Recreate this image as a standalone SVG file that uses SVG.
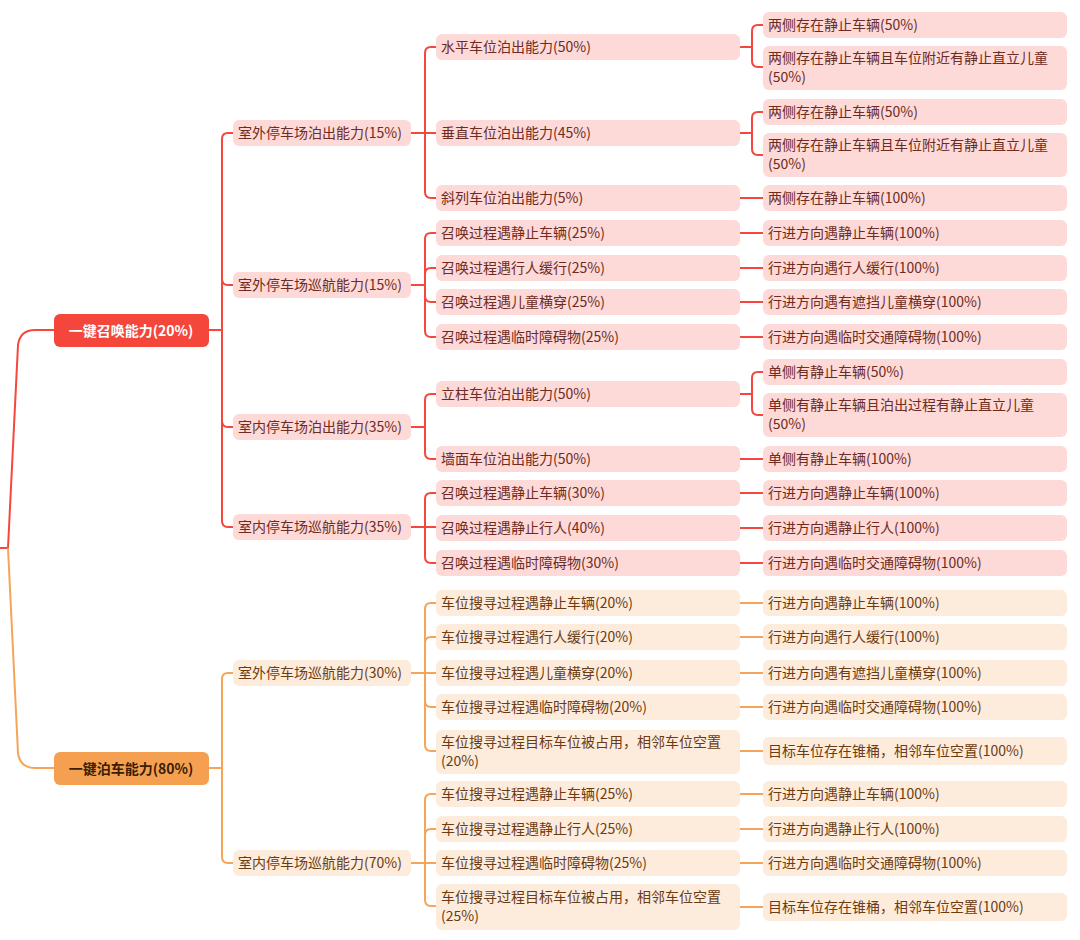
<svg xmlns="http://www.w3.org/2000/svg" width="1080" height="940" viewBox="0 0 1080 940">
<style>
text{font-family:"Noto Sans CJK SC","Noto Sans",sans-serif;font-size:14px}
.r rect{fill:#fdd9d8}.r text{fill:#6e2b22}
.o rect{fill:#fdebdb}.o text{fill:#6b3b12}
.cr{fill:none;stroke:#f5473d;stroke-width:2}
.co{fill:none;stroke:#f5a55a;stroke-width:2}
</style>
<rect width="1080" height="940" fill="#fff"/>
<g id="connectors">
<path class="cr" d="M0,548 H8 L18,345 Q20,330 35,330 H54"/>
<path class="co" d="M8,548 L18,753 Q20,768 35,768 H54"/>
<path class="cr" d="M209,330 H222 V139 Q222,133 228,133 H233 M222,330 V279 Q222,285 228,285 H233 M222,330 V421 Q222,427 228,427 H233 M222,330 V521 Q222,527 228,527 H233"/>
<path class="cr" d="M411,133 H436 M425,133 V53 Q425,47 431,47 H436 M425,133 V192 Q425,198 431,198 H436"/>
<path class="cr" d="M411,285 H425 V239 Q425,233 431,233 H436 M425,285 V274 Q425,268 431,268 H436 M425,285 V296 Q425,302 431,302 H436 M425,285 V331 Q425,337 431,337 H436"/>
<path class="cr" d="M411,427 H425 V400 Q425,394 431,394 H436 M425,427 V453 Q425,459 431,459 H436"/>
<path class="cr" d="M411,527 H436 M425,527 V499 Q425,493 431,493 H436 M425,527 V557 Q425,563 431,563 H436"/>
<path class="cr" d="M740,47 H752 V31 Q752,25 758,25 H763 M752,47 V61 Q752,67 758,67 H763"/>
<path class="cr" d="M740,133 H752 V118 Q752,112 758,112 H763 M752,133 V149 Q752,155 758,155 H763"/>
<path class="cr" d="M740,394 H752 V378 Q752,372 758,372 H763 M752,394 V409 Q752,415 758,415 H763"/>
<path class="cr" d="M740,198 H763 M740,233 H763 M740,268 H763 M740,302 H763 M740,337 H763 M740,459 H763 M740,493 H763 M740,528 H763 M740,563 H763"/>
<path class="co" d="M209,768 H222 V679 Q222,673 228,673 H233 M222,768 V857 Q222,863 228,863 H233"/>
<path class="co" d="M411,673 H436 M425,673 V609 Q425,603 431,603 H436 M425,673 V643 Q425,637 431,637 H436 M425,673 V701 Q425,707 431,707 H436 M425,673 V745 Q425,751 431,751 H436"/>
<path class="co" d="M411,863 H436 M425,863 V800 Q425,794 431,794 H436 M425,863 V835 Q425,829 431,829 H436 M425,863 V900 Q425,906 431,906 H436"/>
<path class="co" d="M740,603 H763 M740,637 H763 M740,673 H763 M740,707 H763 M740,751 H763 M740,794 H763 M740,829 H763 M740,863 H763 M740,907 H763"/>
</g>
<g id="n1"><rect x="54" y="314" width="155" height="33" rx="6" fill="#f5463c"/><text x="131" y="336" text-anchor="middle" fill="#fff" font-weight="bold" font-size="15">一键召唤能力(20%)</text></g>
<g id="n2"><rect x="54" y="752" width="155" height="33" rx="6" fill="#f5a050"/><text x="131" y="774" text-anchor="middle" fill="#3a1d05" font-weight="bold" font-size="15">一键泊车能力(80%)</text></g>
<g class="r">
<g id="a1"><rect x="233" y="120" width="178" height="26" rx="6"/><text x="238" y="138">室外停车场泊出能力(15%)</text></g>
<g id="a2"><rect x="233" y="272" width="178" height="26" rx="6"/><text x="238" y="290">室外停车场巡航能力(15%)</text></g>
<g id="a3"><rect x="233" y="414" width="178" height="26" rx="6"/><text x="238" y="432">室内停车场泊出能力(35%)</text></g>
<g id="a4"><rect x="233" y="514" width="178" height="26" rx="6"/><text x="238" y="532">室内停车场巡航能力(35%)</text></g>
<g id="b1"><rect x="436" y="34" width="304" height="26" rx="6"/><text x="441" y="52">水平车位泊出能力(50%)</text></g>
<g id="b2"><rect x="436" y="120" width="304" height="26" rx="6"/><text x="441" y="138">垂直车位泊出能力(45%)</text></g>
<g id="b3"><rect x="436" y="185" width="304" height="26" rx="6"/><text x="441" y="203">斜列车位泊出能力(5%)</text></g>
<g id="b4"><rect x="436" y="220" width="304" height="26" rx="6"/><text x="441" y="238">召唤过程遇静止车辆(25%)</text></g>
<g id="b5"><rect x="436" y="255" width="304" height="26" rx="6"/><text x="441" y="273">召唤过程遇行人缓行(25%)</text></g>
<g id="b6"><rect x="436" y="289" width="304" height="26" rx="6"/><text x="441" y="307">召唤过程遇儿童横穿(25%)</text></g>
<g id="b7"><rect x="436" y="324" width="304" height="26" rx="6"/><text x="441" y="342">召唤过程遇临时障碍物(25%)</text></g>
<g id="b8"><rect x="436" y="381" width="304" height="26" rx="6"/><text x="441" y="399">立柱车位泊出能力(50%)</text></g>
<g id="b9"><rect x="436" y="446" width="304" height="26" rx="6"/><text x="441" y="464">墙面车位泊出能力(50%)</text></g>
<g id="b10"><rect x="436" y="480" width="304" height="26" rx="6"/><text x="441" y="498">召唤过程遇静止车辆(30%)</text></g>
<g id="b11"><rect x="436" y="515" width="304" height="26" rx="6"/><text x="441" y="533">召唤过程遇静止行人(40%)</text></g>
<g id="b12"><rect x="436" y="550" width="304" height="26" rx="6"/><text x="441" y="568">召唤过程遇临时障碍物(30%)</text></g>
<g id="c1"><rect x="763" y="12" width="304" height="26" rx="6"/><text x="768" y="30">两侧存在静止车辆(50%)</text></g>
<g id="c2"><rect x="763" y="46" width="304" height="44" rx="6"/><text x="768" y="63">两侧存在静止车辆且车位附近有静止直立儿童</text><text x="768" y="82">(50%)</text></g>
<g id="c3"><rect x="763" y="99" width="304" height="26" rx="6"/><text x="768" y="117">两侧存在静止车辆(50%)</text></g>
<g id="c4"><rect x="763" y="133" width="304" height="44" rx="6"/><text x="768" y="150">两侧存在静止车辆且车位附近有静止直立儿童</text><text x="768" y="169">(50%)</text></g>
<g id="c5"><rect x="763" y="185" width="304" height="26" rx="6"/><text x="768" y="203">两侧存在静止车辆(100%)</text></g>
<g id="c6"><rect x="763" y="220" width="304" height="26" rx="6"/><text x="768" y="238">行进方向遇静止车辆(100%)</text></g>
<g id="c7"><rect x="763" y="255" width="304" height="26" rx="6"/><text x="768" y="273">行进方向遇行人缓行(100%)</text></g>
<g id="c8"><rect x="763" y="289" width="304" height="26" rx="6"/><text x="768" y="307">行进方向遇有遮挡儿童横穿(100%)</text></g>
<g id="c9"><rect x="763" y="324" width="304" height="26" rx="6"/><text x="768" y="342">行进方向遇临时交通障碍物(100%)</text></g>
<g id="c10"><rect x="763" y="359" width="304" height="26" rx="6"/><text x="768" y="377">单侧有静止车辆(50%)</text></g>
<g id="c11"><rect x="763" y="393" width="304" height="44" rx="6"/><text x="768" y="410">单侧有静止车辆且泊出过程有静止直立儿童</text><text x="768" y="429">(50%)</text></g>
<g id="c12"><rect x="763" y="446" width="304" height="26" rx="6"/><text x="768" y="464">单侧有静止车辆(100%)</text></g>
<g id="c13"><rect x="763" y="480" width="304" height="26" rx="6"/><text x="768" y="498">行进方向遇静止车辆(100%)</text></g>
<g id="c14"><rect x="763" y="515" width="304" height="26" rx="6"/><text x="768" y="533">行进方向遇静止行人(100%)</text></g>
<g id="c15"><rect x="763" y="550" width="304" height="26" rx="6"/><text x="768" y="568">行进方向遇临时交通障碍物(100%)</text></g>
</g>
<g class="o">
<g id="a5"><rect x="233" y="660" width="178" height="26" rx="6"/><text x="238" y="678">室外停车场巡航能力(30%)</text></g>
<g id="a6"><rect x="233" y="850" width="178" height="26" rx="6"/><text x="238" y="868">室内停车场巡航能力(70%)</text></g>
<g id="d1"><rect x="436" y="590" width="304" height="26" rx="6"/><text x="441" y="608">车位搜寻过程遇静止车辆(20%)</text></g>
<g id="d2"><rect x="436" y="624" width="304" height="26" rx="6"/><text x="441" y="642">车位搜寻过程遇行人缓行(20%)</text></g>
<g id="d3"><rect x="436" y="660" width="304" height="26" rx="6"/><text x="441" y="678">车位搜寻过程遇儿童横穿(20%)</text></g>
<g id="d4"><rect x="436" y="694" width="304" height="26" rx="6"/><text x="441" y="712">车位搜寻过程遇临时障碍物(20%)</text></g>
<g id="d5"><rect x="436" y="730" width="304" height="44" rx="6"/><text x="441" y="747">车位搜寻过程目标车位被占用，相邻车位空置</text><text x="441" y="766">(20%)</text></g>
<g id="d6"><rect x="436" y="781" width="304" height="26" rx="6"/><text x="441" y="799">车位搜寻过程遇静止车辆(25%)</text></g>
<g id="d7"><rect x="436" y="816" width="304" height="26" rx="6"/><text x="441" y="834">车位搜寻过程遇静止行人(25%)</text></g>
<g id="d8"><rect x="436" y="850" width="304" height="26" rx="6"/><text x="441" y="868">车位搜寻过程遇临时障碍物(25%)</text></g>
<g id="d9"><rect x="436" y="884" width="304" height="46" rx="6"/><text x="441" y="902">车位搜寻过程目标车位被占用，相邻车位空置</text><text x="441" y="921">(25%)</text></g>
<g id="e1"><rect x="763" y="590" width="304" height="26" rx="6"/><text x="768" y="608">行进方向遇静止车辆(100%)</text></g>
<g id="e2"><rect x="763" y="624" width="304" height="26" rx="6"/><text x="768" y="642">行进方向遇行人缓行(100%)</text></g>
<g id="e3"><rect x="763" y="660" width="304" height="26" rx="6"/><text x="768" y="678">行进方向遇有遮挡儿童横穿(100%)</text></g>
<g id="e4"><rect x="763" y="694" width="304" height="26" rx="6"/><text x="768" y="712">行进方向遇临时交通障碍物(100%)</text></g>
<g id="e5"><rect x="763" y="737" width="304" height="28" rx="6"/><text x="768" y="756">目标车位存在锥桶，相邻车位空置(100%)</text></g>
<g id="e6"><rect x="763" y="781" width="304" height="26" rx="6"/><text x="768" y="799">行进方向遇静止车辆(100%)</text></g>
<g id="e7"><rect x="763" y="816" width="304" height="26" rx="6"/><text x="768" y="834">行进方向遇静止行人(100%)</text></g>
<g id="e8"><rect x="763" y="850" width="304" height="26" rx="6"/><text x="768" y="868">行进方向遇临时交通障碍物(100%)</text></g>
<g id="e9"><rect x="763" y="893" width="304" height="28" rx="6"/><text x="768" y="912">目标车位存在锥桶，相邻车位空置(100%)</text></g>
</g>
</svg>
